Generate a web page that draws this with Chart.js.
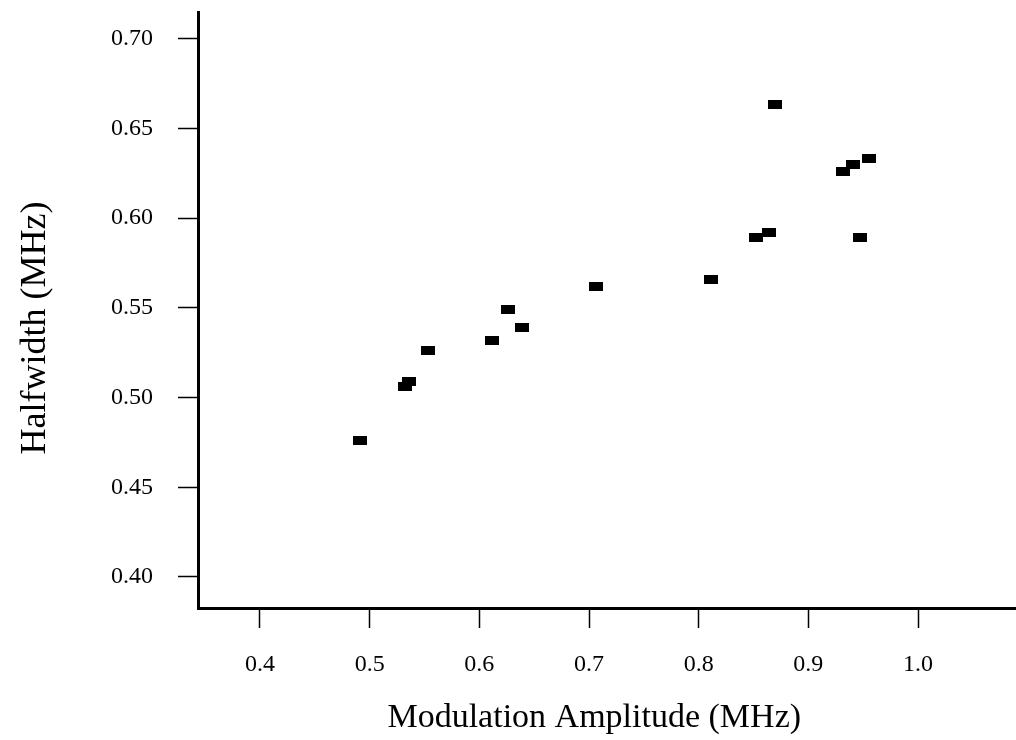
<!DOCTYPE html>
<html>
<head>
<meta charset="utf-8">
<script src="https://cdn.jsdelivr.net/npm/chart.js@4"></script>
<style>
  html, body { margin: 0; padding: 0; background: #fff; }
  #wrap { width: 1016px; height: 740px; }
  canvas { display: block; }
</style>
</head>
<body>
<div id="wrap"><canvas id="halfwidthChart" width="1016" height="740"></canvas></div>
<script>
// Data
const modAmplitude = [0.491, 0.532, 0.536, 0.553, 0.612, 0.626, 0.639, 0.706, 0.811, 0.852, 0.864, 0.870, 0.932, 0.941, 0.955, 0.947];
const halfwidth    = [0.476, 0.506, 0.509, 0.526, 0.532, 0.549, 0.539, 0.562, 0.566, 0.589, 0.592, 0.663, 0.626, 0.630, 0.633, 0.589];
const xTicks = [0.4, 0.5, 0.6, 0.7, 0.8, 0.9, 1.0];
const yTicks = [0.40, 0.45, 0.50, 0.55, 0.60, 0.65, 0.70];

// Little black bar used as the marker
function makeMarker() {
    const c = document.createElement('canvas');
    c.width = 14;
    c.height = 9;
    const g = c.getContext('2d');
    g.fillStyle = '#000';
    g.fillRect(0, 0, 14, 9);
    return c;
}

const serif = "'Liberation Serif', 'DejaVu Serif', serif";

document.addEventListener('DOMContentLoaded', function() {
    const ctx = document.getElementById('halfwidthChart').getContext('2d');
    const marker = makeMarker();

    new Chart(ctx, {
        type: 'scatter',
        data: {
            datasets: [{
                label: 'Halfwidth',
                data: modAmplitude.map((x, i) => ({ x: x, y: halfwidth[i] })),
                pointStyle: marker,
                pointRadius: 7,
                backgroundColor: '#000',
                borderColor: '#000'
            }]
        },
        options: {
            responsive: false,
            animation: false,
            layout: { autoPadding: false, padding: { top: 12, right: 0, left: 0, bottom: 0 } },
            plugins: {
                legend: { display: false },
                tooltip: { enabled: false }
            },
            scales: {
                x: {
                    type: 'linear',
                    min: 0.3435,
                    max: 1.0893,
                    afterBuildTicks: axis => { axis.ticks = xTicks.map(v => ({ value: v })); },
                    afterFit: axis => {
                        axis.height = 132;
                        axis.paddingLeft = 0;
                        axis.paddingRight = 0;
                    },
                    border: { color: '#000', width: 3 },
                    grid: { drawOnChartArea: false, drawTicks: true, tickLength: 20, tickColor: '#000', tickWidth: 1.5 },
                    ticks: {
                        color: '#000',
                        padding: 22,
                        font: { family: serif, size: 24 },
                        callback: v => v.toFixed(1)
                    },
                    title: {
                        display: true,
                        text: 'Modulation Amplitude (MHz)   ',
                        color: '#000',
                        font: { family: serif, size: 34 },
                        padding: { top: 10, bottom: 2 }
                    }
                },
                y: {
                    type: 'linear',
                    min: 0.3827,
                    max: 0.7148,
                    afterBuildTicks: axis => { axis.ticks = yTicks.map(v => ({ value: v })); },
                    afterFit: axis => {
                        axis.width = 198;
                        axis.paddingTop = 0;
                        axis.paddingBottom = 0;
                    },
                    border: { color: '#000', width: 3 },
                    grid: { drawOnChartArea: false, drawTicks: true, tickLength: 20, tickColor: '#000', tickWidth: 1.5 },
                    ticks: {
                        color: '#000',
                        padding: 25,
                        font: { family: serif, size: 24 },
                        callback: v => v.toFixed(2)
                    },
                    title: {
                        display: true,
                        text: 'Halfwidth (MHz)    ',
                        color: '#000',
                        font: { family: serif, size: 36 },
                        padding: { top: 14, bottom: 0 }
                    }
                }
            }
        }
    });
});
</script>
</body>
</html>
